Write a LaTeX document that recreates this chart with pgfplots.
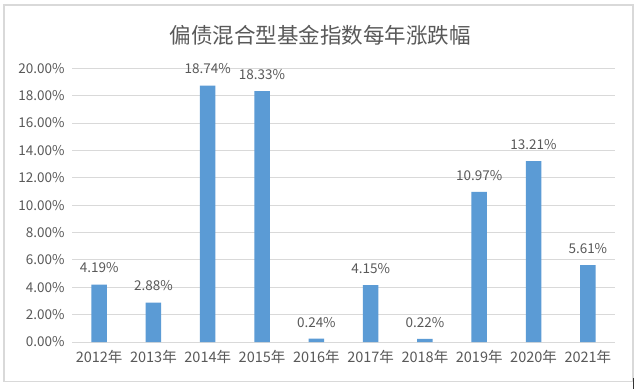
\documentclass[border=0pt]{standalone}
\usepackage{pgfplots}
\pgfplotsset{compat=1.18}
\usepackage{fontspec}
\setmainfont{Noto Sans CJK SC}
\definecolor{barblue}{HTML}{5B9BD5}
\definecolor{txtgray}{HTML}{595959}
\definecolor{gridgray}{HTML}{D9D9D9}
\begin{document}
\begin{tikzpicture}
\path[fill=white] (-72bp,-47bp) rectangle (568bp,342bp);
\draw[gridgray, line width=1.2bp] (-68bp,-39.5bp) rectangle (561bp,337bp);
\draw[black!80, line width=0.8bp] (561.5bp,-36bp) -- (561.5bp,-47bp);
\begin{axis}[
  at={(0,0)}, anchor=south west,
  scale only axis,
  width=543bp, height=273.7bp,
  xmin=-0.5, xmax=9.5,
  ymin=0, ymax=20,
  xtick={0,...,9},
  xticklabels={2012年,2013年,2014年,2015年,2016年,2017年,2018年,2019年,2020年,2021年},
  ytick={0,2,...,20},
  yticklabel={\pgfmathprintnumber[fixed,fixed zerofill,precision=2]{\tick}\%},
  /pgf/number format/assume math mode=true,
  axis line style={draw=none},
  major tick length=0pt,
  ymajorgrids,
  grid style={gridgray, line width=1bp},
  ticklabel style={font=\fontsize{13.5bp}{15bp}\selectfont, text=txtgray},
  yticklabel style={xshift=-4bp},
  xticklabel style={yshift=-5bp, font=\fontsize{14.5bp}{16bp}\selectfont},
  ybar, bar width=15.5bp,
  nodes near coords={\pgfmathprintnumber[fixed,fixed zerofill,precision=2]{\pgfplotspointmeta}\%},
  nodes near coords style={font=\fontsize{13.5bp}{15bp}\selectfont, text=txtgray, anchor=south, yshift=8bp},
  clip=false,
]
\addplot[fill=barblue, draw=none] coordinates {
(0,4.19) (1,2.88) (2,18.74) (3,18.33) (4,0.24) (5,4.15) (6,0.22) (7,10.97) (8,13.21) (9,5.61)
};
\end{axis}
\node[text=txtgray, font=\fontsize{21.5bp}{24bp}\selectfont] at (248bp,307bp) {偏债混合型基金指数每年涨跌幅};
\end{tikzpicture}
\end{document}
